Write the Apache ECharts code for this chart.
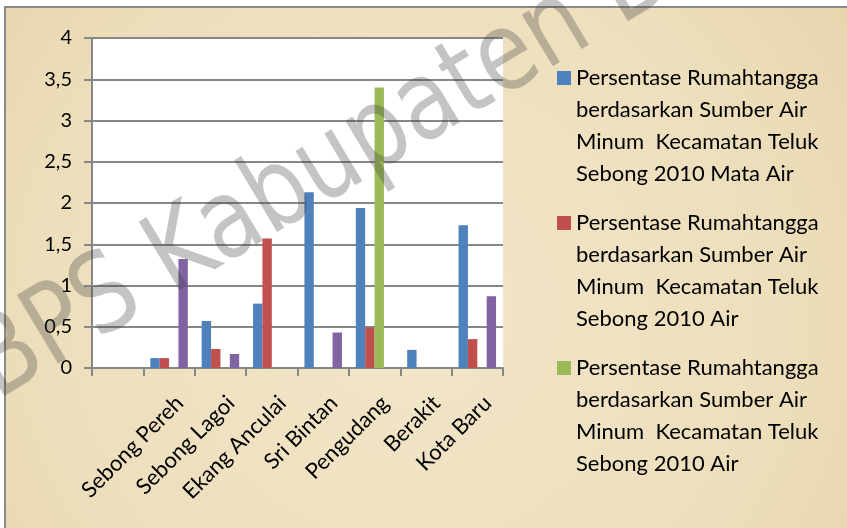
<!DOCTYPE html>
<html>
<head>
<meta charset="utf-8">
<script src="https://cdn.jsdelivr.net/npm/echarts@6/dist/echarts.min.js"></script>
<style>
  html, body { margin: 0; padding: 0; background: #fff; }
  #chart { width: 847px; height: 528px; }
</style>
</head>
<body>
<div id="chart"></div>
<script>
// kategori (kolom pertama kosong di grafik asli)
const categories = ['', 'Sebong Pereh', 'Sebong Lagoi', 'Ekang Anculai', 'Sri Bintan', 'Pengudang', 'Berakit', 'Kota Baru'];

// nilai tiap seri (persen)
const mataAir   = [null, 0.12, 0.57, 0.78, 2.13, 1.94, 0.22, 1.73];
const airA      = [null, 0.12, 0.23, 1.57, null, 0.49, null, 0.35];
const airB      = [null, null, null, null, null, 3.40, null, null];
const lainnya   = [null, 1.32, 0.17, null, 0.43, null, null, 0.87];

// teks legenda
const legendLabels = [
  'Persentase Rumahtangga\nberdasarkan Sumber Air\nMinum  Kecamatan Teluk\nSebong 2010 Mata Air',
  'Persentase Rumahtangga\nberdasarkan Sumber Air\nMinum  Kecamatan Teluk\nSebong 2010 Air',
  'Persentase Rumahtangga\nberdasarkan Sumber Air\nMinum  Kecamatan Teluk\nSebong 2010 Air',
  'Persentase Rumahtangga\nberdasarkan Sumber Air\nMinum  Kecamatan Teluk\nSebong 2010 Lainnya'
];

const seriesIds = ['s1', 's2', 's3', 's4'];
const seriesData = [mataAir, airA, airB, lainnya];
const colors = ['#4F81BD', '#C0504D', '#9BBB59', '#8064A2'];

const chart = echarts.init(document.getElementById('chart'));
const font = 'Lato';
const gray = '#878787';

const option = {
  backgroundColor: '#ffffff',
  animation: false,
  color: colors,
  textStyle: { fontFamily: font },
  grid: {
    left: 92, right: 344, top: 38, bottom: 160,
    show: true, backgroundColor: '#ffffff', borderWidth: 0
  },
  legend: {
    data: seriesIds.slice(0, 3),  // seri ke-4 terpotong di gambar asli
    orient: 'vertical',
    left: 557, top: -34,
    padding: 0,
    itemWidth: 14, itemHeight: 14, itemGap: -79,
    icon: 'rect',
    formatter: (name) => '\n\n\n' + legendLabels[seriesIds.indexOf(name)],
    textStyle: { fontFamily: font, fontSize: 22, color: '#000', lineHeight: 32 }
  },
  xAxis: {
    type: 'category',
    data: categories,
    axisLine: { lineStyle: { color: gray, width: 2 } },
    axisTick: { show: true, length: 8, lineStyle: { color: gray, width: 2 } },
    axisLabel: {
      rotate: 45, margin: 21, color: '#000', fontSize: 22, fontFamily: font,
      interval: 0, verticalAlign: 'top', lineHeight: 30
    }
  },
  yAxis: {
    type: 'value',
    min: 0, max: 4, interval: 0.5,
    axisLine: { show: true, lineStyle: { color: gray, width: 2 } },
    axisTick: { show: true, length: 8, lineStyle: { color: gray, width: 2 } },
    axisLabel: {
      margin: 20, color: '#000', fontSize: 20, fontFamily: font,
      formatter: (v) => String(v).replace('.', ',')
    },
    splitLine: { lineStyle: { color: gray, width: 2 } }
  },
  series: seriesIds.map((id, i) => ({
    name: id,
    type: 'bar',
    data: seriesData[i],
    barGap: '0%',
    barCategoryGap: '27%',
    itemStyle: { color: colors[i] }
  })),
  graphic: [
    {
      type: 'rect', z: -10, silent: true,
      shape: { x: 5, y: 7, width: 900, height: 600 },
      style: {
        fill: {
          type: 'radial', x: 0.45, y: 0.5, r: 0.9,
          colorStops: [
            { offset: 0, color: '#F2E6CA' },
            { offset: 0.7, color: '#EDDEBB' },
            { offset: 1, color: '#E6D4AC' }
          ]
        },
        stroke: '#8a8a8a', lineWidth: 2
      }
    },
    {
      // watermark
      type: 'text', z: 100, silent: true,
      x: -18, y: 376,
      rotation: 31 * Math.PI / 180,
      scaleX: 0.83,
      style: {
        text: 'BPS Kabupaten Bintan',
        font: '110px "DejaVu Sans"',
        fill: 'rgba(60,60,60,0.3)',
        textAlign: 'left', verticalAlign: 'middle'
      }
    }
  ]
};

chart.setOption(option);
</script>
</body>
</html>
